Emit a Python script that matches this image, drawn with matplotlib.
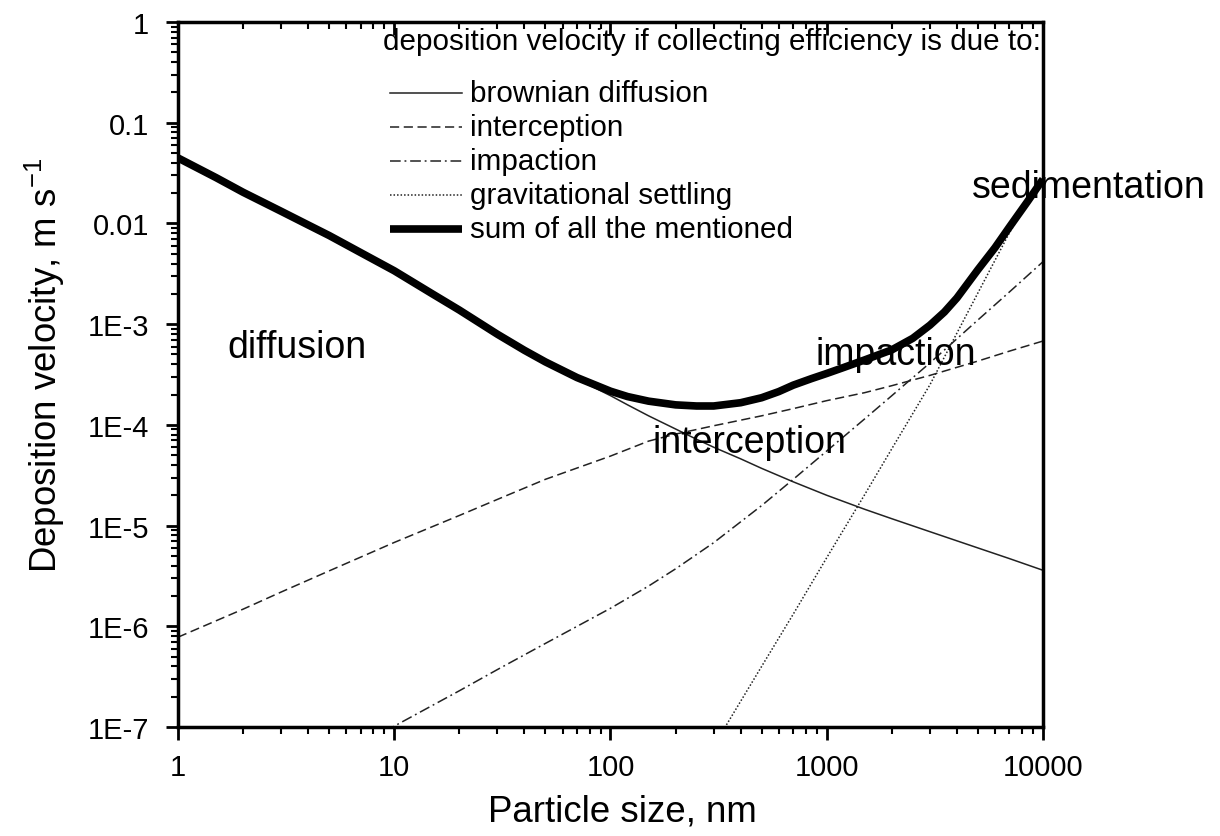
import matplotlib
matplotlib.use('Agg')
import matplotlib.pyplot as plt
from matplotlib.ticker import LogLocator, NullFormatter

plt.rcParams['font.family'] = 'Liberation Sans'
plt.rcParams['mathtext.fontset'] = 'custom'
plt.rcParams['mathtext.rm'] = 'Liberation Sans'

# particle size, nm  /  deposition velocity, m/s
d_diff = [1, 2, 3, 5, 10, 20, 30, 50, 70, 100, 120, 150, 200, 250, 300, 400,
          500, 700, 1000, 1500, 2000, 3000, 5000, 7000, 10000]
v_diff = [4.5e-2, 2.04e-2, 1.32e-2, 7.6e-3, 3.4e-3, 1.38e-3, 8.1e-4, 4.2e-4,
          2.85e-4, 1.95e-4, 1.58e-4, 1.23e-4, 9.1e-5, 7.2e-5, 6.0e-5, 4.6e-5,
          3.7e-5, 2.72e-5, 2.0e-5, 1.45e-5, 1.17e-5, 8.7e-6, 6.0e-6, 4.7e-6,
          3.6e-6]

d_int = [1, 2, 3, 5, 10, 20, 30, 50, 100, 150, 200, 300, 500, 700,
         1000, 1500, 2000, 3000, 5000, 7000, 10000]
v_int = [7.8e-7, 1.48e-6, 2.19e-6, 3.55e-6, 6.8e-6, 1.26e-5, 1.82e-5, 2.88e-5,
         4.9e-5, 6.9e-5, 8.1e-5, 9.8e-5, 1.23e-4, 1.45e-4, 1.74e-4,
         2.09e-4, 2.45e-4, 3.1e-4, 4.3e-4, 5.4e-4, 6.8e-4]

d_imp = [9, 10, 20, 30, 50, 100, 150, 200, 300, 500, 700,
         1000, 1500, 2000, 3000, 5000, 7000, 10000]
v_imp = [9.1e-8, 1.02e-7, 2.29e-7, 3.72e-7, 6.76e-7, 1.51e-6, 2.51e-6, 3.72e-6,
         6.76e-6, 1.58e-5, 2.88e-5, 5.5e-5, 1.15e-4, 1.95e-4, 4.12e-4,
         1.10e-3, 2.09e-3, 4.17e-3]

d_grav = [300, 350, 500, 700, 1000, 1500, 2000, 3000, 5000, 7000, 10000]
v_grav = [6.5e-8, 1.12e-7, 4.0e-7, 1.32e-6, 4.8e-6, 2.04e-5, 5.8e-5,
          2.5e-4, 2.04e-3, 8.1e-3, 2.75e-2]

d_sum = [1, 1.5, 2, 3, 4, 5, 7, 10, 15, 20, 30, 40, 50, 70, 100, 120, 150,
         200, 250, 300, 400, 500, 600, 700, 850, 1000, 1200, 1500, 2000,
         2500, 3000, 3500, 4000, 5000, 6000, 7000, 8500, 10000]
v_sum = [4.47e-2, 2.85e-2, 2.04e-2, 1.32e-2, 9.66e-3, 7.59e-3, 5.13e-3,
         3.39e-3, 2.0e-3, 1.38e-3, 7.94e-4, 5.5e-4, 4.22e-4, 2.95e-4,
         2.16e-4, 1.91e-4, 1.72e-4, 1.58e-4, 1.54e-4, 1.54e-4, 1.66e-4,
         1.86e-4, 2.14e-4, 2.48e-4, 2.88e-4, 3.24e-4, 3.72e-4, 4.42e-4,
         5.56e-4, 7.24e-4, 9.77e-4, 1.32e-3, 1.82e-3, 3.47e-3, 5.75e-3,
         9.23e-3, 1.66e-2, 2.75e-2]

x_ticks = [1, 10, 100, 1000, 10000]
x_labels = ['1', '10', '100', '1000', '10000']
y_ticks = [1e-7, 1e-6, 1e-5, 1e-4, 1e-3, 1e-2, 1e-1, 1]
y_labels = ['1E-7', '1E-6', '1E-5', '1E-4', '1E-3', '0.01', '0.1', '1']

legend_entries = ['brownian diffusion', 'interception', 'impaction',
                  'gravitational settling', 'sum of all the mentioned']

thin = dict(color='#222222', lw=1.1)
styles = [dict(ls='-', **thin),
          dict(ls=(0, (6, 3)), **thin),
          dict(ls=(0, (7, 2.5, 1.2, 2.5)), **thin),
          dict(ls=(0, (1, 1.3)), **thin),
          dict(ls='-', color='black', lw=5.5, solid_capstyle='butt')]

fig = plt.figure(figsize=(12.2, 8.37), dpi=100)
ax = fig.add_axes([0.1459, 0.1302, 0.7090, 0.8423])

ax.plot(d_diff, v_diff, **styles[0], zorder=2)
ax.plot(d_int, v_int, **styles[1], zorder=2)
ax.plot(d_imp, v_imp, **styles[2], zorder=2)
ax.plot(d_grav, v_grav, **styles[3], zorder=2)
ax.plot(d_sum, v_sum, color='black', lw=5.5, solid_joinstyle='round',
        solid_capstyle='butt', zorder=5)

ax.set_xscale('log')
ax.set_yscale('log')
ax.set_xlim(1, 1e4)
ax.set_ylim(1e-7, 1)

ax.set_xticks(x_ticks, x_labels)
ax.set_yticks(y_ticks, y_labels)
for axis in (ax.xaxis, ax.yaxis):
    axis.set_minor_locator(LogLocator(base=10, subs=range(2, 10), numticks=20))
    axis.set_minor_formatter(NullFormatter())

ax.tick_params(which='both', direction='out', right=False, top=False,
               labelsize=21)
ax.tick_params(which='major', length=9, width=2)
ax.tick_params(which='minor', length=5, width=1.5)
ax.tick_params(axis='y', pad=12)
ax.tick_params(axis='x', pad=10)
for s in ax.spines.values():
    s.set_linewidth(2.5)

# inward ticks along the top edge
top = ax.twiny()
top.set_xscale('log')
top.set_xlim(1, 1e4)
top.set_xticks(x_ticks)
top.xaxis.set_minor_locator(LogLocator(base=10, subs=range(2, 10), numticks=20))
top.tick_params(which='both', direction='in', labeltop=False, labelbottom=False)
top.tick_params(which='major', length=9, width=2)
top.tick_params(which='minor', length=5, width=1.5)
for s in top.spines.values():
    s.set_visible(False)

# region labels
ax.text(1.70, 5.9e-4, 'diffusion', fontsize=27, va='center', zorder=4)
ax.text(156, 6.7e-5, 'interception', fontsize=27, va='center', zorder=4)
ax.text(892, 5.0e-4, 'impaction', fontsize=27, va='center', zorder=4)
ax.text(4700, 2.3e-2, 'sedimentation', fontsize=27, va='center', zorder=4)

# legend drawn by hand
ax.text(0.237, 0.973, 'deposition velocity if collecting efficiency is due to:',
        transform=ax.transAxes, fontsize=21.3, va='center')
row_y = [0.8993, 0.8511, 0.8028, 0.7546, 0.7064]
for label, st, y in zip(legend_entries, styles, row_y):
    ax.plot([0.2451, 0.3283], [y, y], transform=ax.transAxes, clip_on=False,
            **st)
    ax.text(0.3376, y, label, transform=ax.transAxes, fontsize=21.3,
            va='center')

fig.text(622 / 1220, 1 - 812 / 837, 'Particle size, nm', fontsize=26.4,
         ha='center', va='center')
fig.text(45 / 1220, 1 - 365 / 837, 'Deposition velocity, m s$^{-1}$',
         fontsize=26.4, rotation=90, ha='center', va='center')

fig.savefig('out.png', dpi=100)
